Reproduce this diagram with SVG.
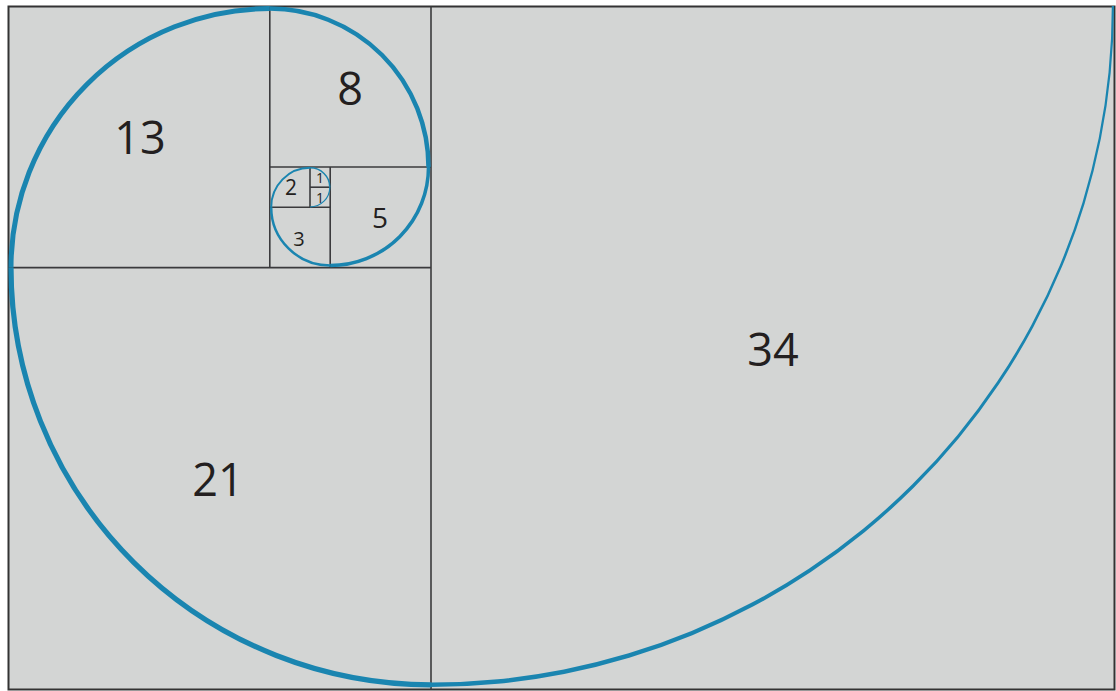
<svg xmlns="http://www.w3.org/2000/svg" width="1116" height="691" viewBox="0 0 1116 691">
  <style>
    .grid { stroke: #3a3a3c; stroke-width: 1.6; fill: none; }
    .sp { stroke: #1a85b0; fill: none; stroke-linecap: butt; }
    .num { font-family: "Open Sans", "Liberation Sans", sans-serif; fill: #231f20; text-anchor: middle; }
  </style>
  <rect x="0" y="0" width="1116" height="691" fill="#ffffff"/>
  <rect x="8.5" y="6.5" width="1106" height="683" fill="#d3d5d4" stroke="#333333" stroke-width="2"/>
  <g id="grid">
    <line class="grid" x1="431" y1="6.5" x2="431" y2="689.5"/>
    <line class="grid" x1="8.5" y1="267.6" x2="431" y2="267.6"/>
    <line class="grid" x1="269.8" y1="6.5" x2="269.8" y2="267.6"/>
    <line class="grid" x1="269.8" y1="167" x2="431" y2="167"/>
    <line class="grid" x1="330.2" y1="167" x2="330.2" y2="267.6"/>
    <line class="grid" x1="269.8" y1="207.3" x2="330.2" y2="207.3"/>
    <line class="grid" x1="310" y1="167" x2="310" y2="207.3"/>
    <line class="grid" x1="310" y1="187.2" x2="330.2" y2="187.2"/>
  </g>
  <g id="spiral">
    <path fill="#1a85b0" d="M1114,6 A683,681 0 0 1 431,687 L431,682.5 A680.8,676.5 0 0 0 1111.8,6 Z"/>
    <path class="sp" stroke-width="5.2" d="M431,684.8 A420,417 0 0 1 11,267.6"/>
    <path class="sp" stroke-width="5" d="M11,267.6 A258.8,259 0 0 1 269.8,8.6"/>
    <path class="sp" stroke-width="4.5" d="M269.8,8.6 A158.7,158.4 0 0 1 428.5,167"/>
    <path class="sp" stroke-width="3.5" d="M428.5,167 A98.3,98.5 0 0 1 330.2,265.5"/>
    <path class="sp" stroke-width="2.5" d="M330.2,265.5 A59,58.2 0 0 1 271.2,207.3"/>
    <path class="sp" stroke-width="2" d="M271.2,207.3 A38.8,39.5 0 0 1 310,167.8"/>
    <path class="sp" stroke-width="1.5" d="M310,167.8 A19.8,19.4 0 0 1 329.8,187.2"/>
    <path class="sp" stroke-width="1.2" d="M329.8,187.2 A19.8,19.8 0 0 1 310,207"/>
  </g>
  <g id="labels">
    <text class="num" x="140" y="154" font-size="45">13</text>
    <text class="num" x="350" y="105" font-size="45">8</text>
    <text class="num" x="773" y="366" font-size="45">34</text>
    <text class="num" x="218" y="496" font-size="45">21</text>
    <text class="num" x="380" y="228" font-size="28">5</text>
    <text class="num" x="299" y="246" font-size="20">3</text>
    <text class="num" x="291" y="195" font-size="21">2</text>
    <text class="num" x="320" y="183" font-size="14">1</text>
    <text class="num" x="320" y="203" font-size="14">1</text>
  </g>
</svg>
